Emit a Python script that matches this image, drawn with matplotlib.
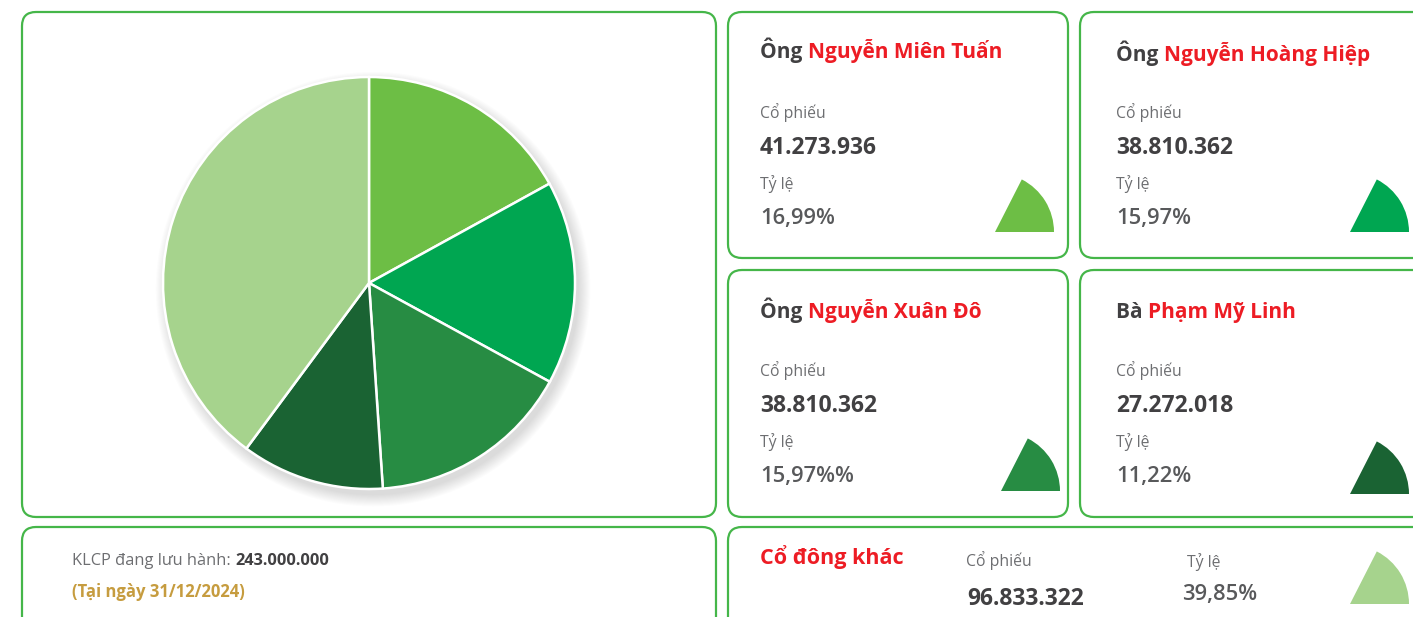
import matplotlib.pyplot as plt
from matplotlib.patches import FancyBboxPatch, Wedge, Circle

plt.rcParams['font.family'] = ['Open Sans', 'DejaVu Sans']

W, H = 1413, 617

# shareholders (clockwise from top in the big pie)
titles = ['Ông', 'Ông', 'Ông', 'Bà']
names = ['Nguyễn Miên Tuấn', 'Nguyễn Hoàng Hiệp', 'Nguyễn Xuân Đô', 'Phạm Mỹ Linh']
shares = ['41.273.936', '38.810.362', '38.810.362', '27.272.018']
pct_labels = ['16,99%', '15,97%', '15,97%%', '11,22%']
pct = [16.99, 15.97, 15.97, 11.22, 39.85]
other_name = 'Cổ đông khác'
other_shares = '96.833.322'
other_pct = '39,85%'
total_label = 'KLCP đang lưu hành: '
total_value = '243.000.000'
date_label = '(Tại ngày 31/12/2024)'

colors = ['#6DBE45', '#00A651', '#278C43', '#1A6333', '#A6D38D']
border = '#45B649'
dark = '#414042'
red = '#ED1C24'
gray = '#6D6E71'
pgray = '#58595B'
gold = '#C69C3F'

fig = plt.figure(figsize=(W / 100, H / 100), dpi=100)
ax = fig.add_axes([0, 0, 1, 1])
ax.set_xlim(0, W)
ax.set_ylim(0, H)
ax.axis('off')


def card(x0, y0, x1, y1):
    ax.add_patch(FancyBboxPatch((x0, H - y1), x1 - x0, y1 - y0,
                                boxstyle='round,pad=0,rounding_size=14',
                                fc='white', ec=border, lw=1.6))


def two_part(x, y, a, b, size, ca, cb, wa='bold', wb='bold'):
    t = ax.text(x, H - y, a, fontsize=size, color=ca, fontweight=wa,
                va='baseline', ha='left')
    ax.annotate(b, xy=(1, 0), xycoords=t, va='bottom', ha='left',
                fontsize=size, color=cb, fontweight=wb)


def icon(x, y, c):
    ax.add_patch(Wedge((x, H - y), 59, 0, 63, fc=c, ec='none'))


# cards
card(22, 12, 716, 517)
card(22, 527, 716, 660)
card(728, 12, 1068, 258)
card(1080, 12, 1440, 258)
card(728, 270, 1068, 517)
card(1080, 270, 1440, 517)
card(728, 527, 1440, 660)

# person cards
xs = [760, 1116, 760, 1116]
name_y = [58, 61, 318, 318]
top = [12, 12, 270, 270]
icon_pos = [(995, 232), (1350, 232), (1001, 491), (1350, 494)]
for i in range(4):
    x, t0 = xs[i], top[i]
    two_part(x, name_y[i], titles[i] + ' ', names[i], 15, dark, red)
    ax.text(x, H - (t0 + 106), 'Cổ phiếu', fontsize=11.3, color=gray)
    ax.text(x, H - (t0 + 142), shares[i], fontsize=16.5, color=dark,
            fontweight='bold')
    ax.text(x, H - (t0 + 177), 'Tỷ lệ', fontsize=11.3, color=gray)
    ax.text(x, H - (t0 + 212), pct_labels[i], fontsize=15.8, color=pgray,
            fontweight='semibold')
    icon(*icon_pos[i], colors[i])

# other shareholders card
ax.text(760, H - 564, other_name, fontsize=15.5, color=red, fontweight='bold')
ax.text(966, H - 566, 'Cổ phiếu', fontsize=11.3, color=gray)
ax.text(967, H - 605, other_shares, fontsize=16.5, color=dark, fontweight='bold')
ax.text(1187, H - 567, 'Tỷ lệ', fontsize=11.3, color=gray)
ax.text(1182, H - 600, other_pct, fontsize=15.8, color=pgray, fontweight='semibold')
icon(1350, 604, colors[4])

# total
two_part(72, 565, total_label, total_value, 11.8, gray, dark, 'normal', 'bold')
ax.text(72, H - 597, date_label, fontsize=12, color=gold, fontweight='bold')

# big pie
cx, cy, r = 369, 283, 206
pax = fig.add_axes([(cx - r) / W, (H - cy - r) / H, 2 * r / W, 2 * r / H])
for k in range(12):
    rr = 1.0 + 0.005 * k
    pax.add_patch(Circle((0.02, -0.03), rr, fc='black', ec='none',
                         alpha=0.012, zorder=0, clip_on=False))
pax.pie(pct, colors=colors, startangle=90, counterclock=False, radius=1,
        wedgeprops=dict(ec='white', lw=1.8))
pax.set_xlim(-1, 1)
pax.set_ylim(-1, 1)
pax.set_aspect('equal')
pax.axis('off')

fig.savefig('out.png', dpi=100)
